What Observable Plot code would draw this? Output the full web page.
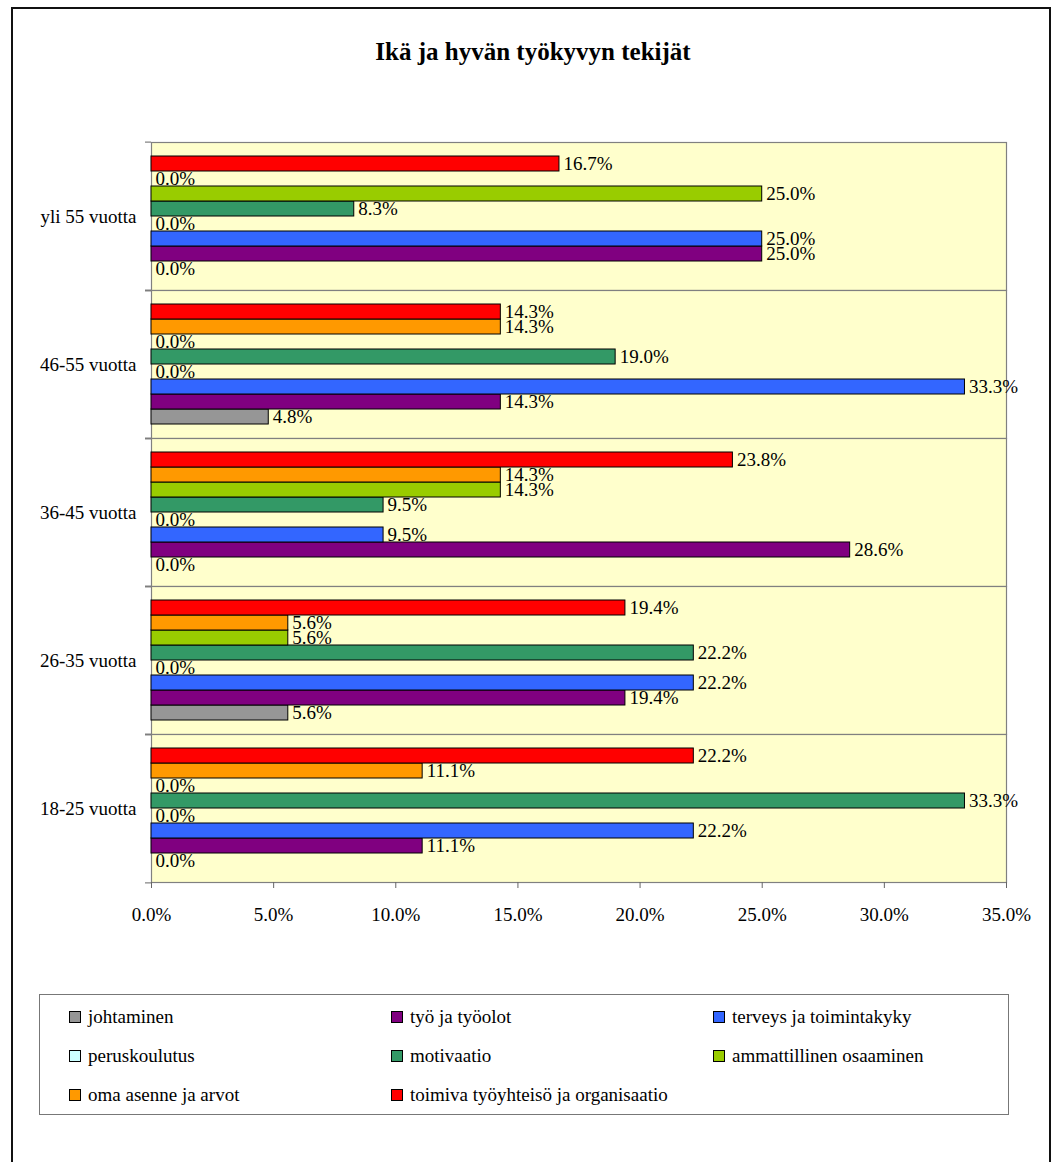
<!DOCTYPE html>
<html>
<head>
<meta charset="utf-8">
<script src="https://cdn.jsdelivr.net/npm/d3@7"></script>
<script src="https://cdn.jsdelivr.net/npm/@observablehq/plot@0.6"></script>
<style>
  html, body { margin: 0; padding: 0; background: #fff; }
  body { width: 1055px; height: 1162px; position: relative; overflow: hidden;
         font-family: "Liberation Serif", "Times New Roman", serif; color: #000; }
  #border { position: absolute; left: 11px; top: 7px; width: 1036px; height: 1170px;
            border: 2px solid #111; }
  #title { position: absolute; left: 11px; width: 1044px; top: 39px; line-height: 25px;
           text-align: center; font-weight: bold; font-size: 25px; }
  #chart { position: absolute; left: 0; top: 120px; }
  #legend { position: absolute; left: 39px; top: 994px; width: 970px; height: 121px;
            border: 1px solid #777; box-sizing: border-box; }
  .item { position: absolute; display: flex; align-items: center; font-size: 19px;
          white-space: nowrap; line-height: 20px; }
  .sw { width: 10px; height: 10px; border: 1px solid #000; margin-right: 7px; }
</style>
</head>
<body>
<div id="border"></div>
<div id="title">Ikä ja hyvän työkyvyn tekijät</div>
<div id="chart"></div>
<div id="legend"></div>
<script>
// Age groups, top to bottom
const groups = ["yli 55 vuotta", "46-55 vuotta", "36-45 vuotta", "26-35 vuotta", "18-25 vuotta"];

// Factors (legend order; drawn bottom to top inside each group)
const factors = [
  "johtaminen",
  "työ ja työolot",
  "terveys ja toimintakyky",
  "peruskoulutus",
  "motivaatio",
  "ammattillinen osaaminen",
  "oma asenne ja arvot",
  "toimiva työyhteisö ja organisaatio"
];
const factorColors = ["#969696", "#800080", "#3366FF", "#CCFFFF", "#339966", "#99CC00", "#FF9900", "#FF0000"];

// Share of answers (%) per factor, one array per age group
const yli55 = [0.0, 25.0, 25.0, 0.0, 8.3, 25.0, 0.0, 16.7];
const age46_55 = [4.8, 14.3, 33.3, 0.0, 19.0, 0.0, 14.3, 14.3];
const age36_45 = [0.0, 28.6, 9.5, 0.0, 9.5, 14.3, 14.3, 23.8];
const age26_35 = [5.6, 19.4, 22.2, 0.0, 22.2, 5.6, 5.6, 19.4];
const age18_25 = [0.0, 11.1, 22.2, 0.0, 33.3, 0.0, 11.1, 22.2];

const xTicks = [0, 5, 10, 15, 20, 25, 30, 35];

const groupValues = [yli55, age46_55, age36_45, age26_35, age18_25];
const data = groups.flatMap((g, gi) =>
  factors.map((f, fi) => ({group: g, factor: f, value: groupValues[gi][fi]}))
);

const pct = v => v.toFixed(1) + "%";
const FONT = 19;
const halfFacet = (884 - 140) / groups.length / 2;

const chart = Plot.plot({
  width: 1055,
  height: 820,
  marginTop: 20,
  marginBottom: 56,
  marginLeft: 151,
  marginRight: 49,
  style: {fontFamily: "Liberation Serif, Times New Roman, serif", fontSize: FONT + "px", color: "#000", background: "transparent"},
  x: {domain: [0, 35]},
  y: {domain: factors.slice().reverse(), paddingInner: 0, paddingOuter: 0.72, axis: null},
  fy: {domain: groups, padding: 0},
  color: {domain: factors, range: factorColors},
  marks: [
    Plot.frame({fill: "#FFFFCC", stroke: "#808080", strokeWidth: 1.2}),
    Plot.barX(data.filter(d => d.value > 0), {
      x: "value", y: "factor", fy: "group", fill: "factor",
      stroke: "#000", strokeWidth: 1
    }),
    Plot.text(data, {
      x: "value", y: "factor", fy: "group", text: d => pct(d.value),
      textAnchor: "start", dx: 4, fontSize: FONT, fill: "#000"
    }),
    Plot.axisX({
      ticks: xTicks, tickFormat: pct, tickSize: 6, tickPadding: 19,
      fontSize: FONT, stroke: "#666", fill: "#000", label: null
    }),
    Plot.axisFy({anchor: "left", tickSize: 0, tickPadding: 15, fontSize: FONT, fill: "#000", label: null}),
    Plot.axisFy({anchor: "left", text: null, tickSize: 6, dy: -halfFacet, stroke: "#666", label: null}),
    Plot.axisFy({anchor: "left", text: null, tickSize: 6, dy: halfFacet, stroke: "#666", label: null})
  ]
});
document.getElementById("chart").appendChild(chart);

// Legend: three columns, filled row by row
const legend = document.getElementById("legend");
factors.forEach((f, i) => {
  const col = i % 3, row = Math.floor(i / 3);
  const item = document.createElement("div");
  item.className = "item";
  item.style.left = (29 + col * 322) + "px";
  item.style.top = (12 + row * 39) + "px";
  const sw = document.createElement("div");
  sw.className = "sw";
  sw.style.background = factorColors[i];
  item.appendChild(sw);
  item.appendChild(document.createTextNode(f));
  legend.appendChild(item);
});
</script>
</body>
</html>
